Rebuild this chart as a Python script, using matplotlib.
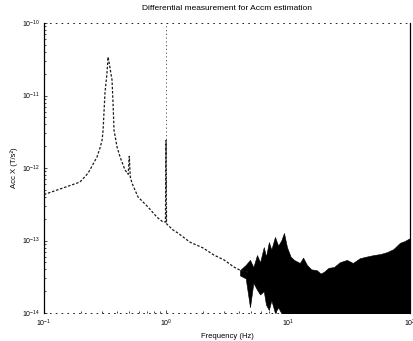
import matplotlib
matplotlib.use("Agg")
import matplotlib.pyplot as plt

plt.rcParams["font.family"] = ["Liberation Sans", "DejaVu Sans"]

title = "Differential measurement for Accm estimation"
xlabel = "Frequency (Hz)"
ylabel = "Acc X (T/s²)"

# low-frequency response: resonance near 0.33 Hz, small line at 0.5 Hz, line at 1 Hz
freq = [0.1, 0.143, 0.197, 0.23, 0.272, 0.288, 0.299, 0.305, 0.31, 0.316,
        0.328, 0.335, 0.341, 0.361, 0.368, 0.375, 0.397, 0.42, 0.461, 0.49,
        0.50, 0.51, 0.526, 0.589, 0.711, 0.843, 0.944, 0.99, 1.0, 1.01,
        1.14, 1.25, 1.57, 2.01, 2.47, 2.99, 3.61, 4.04, 4.88]
acc = [4.3e-13, 5.3e-13, 6.4e-13, 8.5e-13, 1.42e-12, 1.9e-12, 2.4e-12, 3.3e-12, 5.7e-12, 1.08e-11,
       2.0e-11, 3.4e-11, 2.9e-11, 1.64e-11, 7.9e-12, 3.3e-12, 1.95e-12, 1.42e-12, 9.4e-13, 8.2e-13,
       1.45e-12, 7.5e-13, 6.2e-13, 4.0e-13, 2.9e-13, 2.1e-13, 1.8e-13, 1.8e-13, 2.4e-12, 1.7e-13,
       1.4e-13, 1.27e-13, 9.5e-14, 7.9e-14, 6.3e-14, 5.4e-14, 4.3e-14, 3.9e-14, 3.6e-14]

# high-frequency noise band (upper / lower extent)
noise_f = [4.04, 4.5, 4.88, 5.2, 5.57, 5.9, 6.33, 6.6, 6.97, 7.3,
           7.82, 8.3, 8.8, 9.27, 9.81, 10.5, 11.2, 12.5, 13.3, 14.3,
           15.5, 17.2, 18.5, 19.7, 21.5, 23.8, 26.5, 30.4, 34.0, 38.8,
           44.0, 50.4, 57.0, 64.6, 73.0, 82.8, 90.0, 100.0]
noise_hi = [3.9e-14, 4.6e-14, 5.4e-14, 4.3e-14, 6.3e-14, 5.0e-14, 8.1e-14, 6.0e-14, 9.5e-14, 7.5e-14,
            1.12e-13, 8.5e-14, 1.0e-13, 1.27e-13, 8.1e-14, 6.0e-14, 5.4e-14, 4.9e-14, 5.8e-14, 4.6e-14,
            4.0e-14, 3.9e-14, 3.5e-14, 3.7e-14, 4.2e-14, 4.3e-14, 5.0e-14, 5.4e-14, 4.9e-14, 5.7e-14,
            6.0e-14, 6.3e-14, 6.5e-14, 6.9e-14, 7.6e-14, 9.3e-14, 9.8e-14, 1.08e-13]
noise_lo = [3.3e-14, 3.0e-14, 1.2e-14, 2.6e-14, 2.1e-14, 1.8e-14, 2.0e-14, 1.3e-14, 1.1e-14, 1.5e-14,
            1.0e-14, 1.2e-14, 1.0e-14, 9e-15, 5e-15, 5e-15, 5e-15, 5e-15, 5e-15, 5e-15,
            5e-15, 5e-15, 5e-15, 5e-15, 5e-15, 5e-15, 5e-15, 5e-15, 5e-15, 5e-15,
            5e-15, 5e-15, 5e-15, 5e-15, 5e-15, 5e-15, 5e-15, 5e-15]

# narrow lines reaching the top of the range
line_f = [1.0, 100.0]
line_lo = [1.8e-13, 1.08e-13]
line_hi = [1e-10, 1e-10]

xticks = [0.1, 1, 10, 100]
xticklabels = [r"$\mathregular{10^{-1}}$", r"$\mathregular{10^{0}}$",
               r"$\mathregular{10^{1}}$", r"$\mathregular{10^{2}}$"]
yticks = [1e-14, 1e-13, 1e-12, 1e-11, 1e-10]
yticklabels = [r"$\mathregular{10^{-14}}$", r"$\mathregular{10^{-13}}$", r"$\mathregular{10^{-12}}$",
               r"$\mathregular{10^{-11}}$", r"$\mathregular{10^{-10}}$"]

fig = plt.figure(figsize=(4.14, 3.41), dpi=100)
ax = fig.add_axes([44 / 414, 1 - 313 / 341, (410 - 44) / 414, (313 - 23) / 341])

ax.fill_between(noise_f, noise_lo, noise_hi, color="black", lw=0.4)
ax.plot(freq, acc, color="0.1", lw=0.9, ls=(0, (2.0, 1.4)))
ax.vlines(line_f, line_lo, line_hi, colors="0.25", lw=0.6, linestyles=(0, (1.5, 3)))

ax.set_xscale("log")
ax.set_yscale("log")
ax.set_xlim(0.1, 100)
ax.set_ylim(1e-14, 1e-10)
ax.set_xticks(xticks)
ax.set_xticklabels(xticklabels)
ax.set_yticks(yticks)
ax.set_yticklabels(yticklabels)
ax.tick_params(which="both", direction="in", labelsize=5, length=2.5, width=0.5, pad=2)
ax.tick_params(axis="x", which="major", pad=3.5)
ax.tick_params(axis="y", which="major", pad=3)
ax.tick_params(which="minor", length=1.5)
ax.minorticks_on()

for side in ("top", "bottom"):
    ax.spines[side].set_linestyle((0, (1, 6)))
    ax.spines[side].set_linewidth(0.6)
ax.spines["left"].set_linewidth(0.9)
ax.spines["right"].set_linewidth(0.9)

ax.set_title(title, fontsize=6, pad=9)
ax.set_xlabel(xlabel, fontsize=5.5, labelpad=3)
ax.set_ylabel(ylabel, fontsize=5.5, labelpad=3)

fig.savefig("out.png", dpi=100)
